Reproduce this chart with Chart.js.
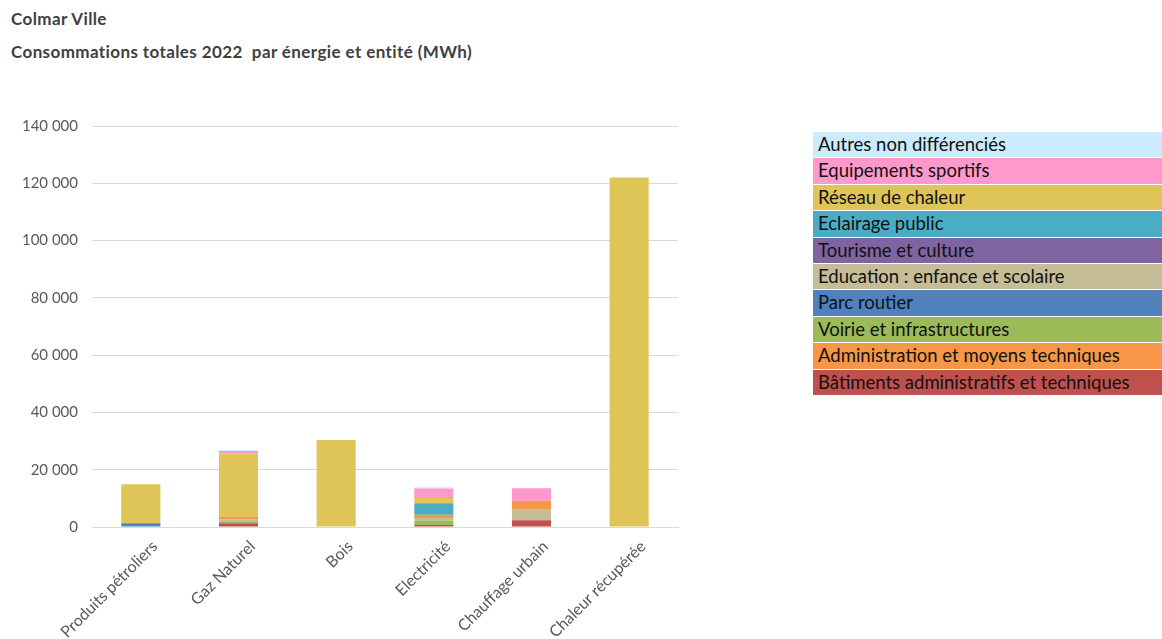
<!DOCTYPE html>
<html lang="fr">
<head>
<meta charset="utf-8">
<title>Colmar Ville - Consommations 2022</title>
<script src="https://cdn.jsdelivr.net/npm/chart.js@4.4.1/dist/chart.umd.min.js"></script>
<style>
  html, body { margin: 0; padding: 0; background: #fff; }
  body { width: 1162px; height: 639px; position: relative; overflow: hidden; font-family: Lato, "Open Sans", sans-serif; }
  .title { position: absolute; left: 11px; font-weight: bold; font-size: 17px; letter-spacing: 0.4px; color: #404040; white-space: pre; line-height: 1; }
  #chartBox { position: absolute; left: 0; top: 0; width: 700px; height: 639px; }
  #legend { position: absolute; left: 813px; top: 132px; width: 349px; }
  #legend div { height: 25.4px; line-height: 25.4px; margin-bottom: 1px; padding-left: 5px; font-size: 18.5px; color: #111; white-space: nowrap; }
</style>
</head>
<body>
<div class="title" style="top:10px">Colmar Ville</div>
<div class="title" style="top:43px">Consommations totales 2022  par énergie et entité (MWh)</div>
<div id="chartBox"><canvas id="chart"></canvas></div>
<div id="legend"></div>

<script>
// energy types on the x axis
const energies = ["Produits pétroliers", "Gaz Naturel", "Bois", "Electricité", "Chauffage urbain", "Chaleur récupérée"];

// consumption per entity, MWh (stacked bottom to top)
const batiments      = [0,    1300, 0,     700,  2400, 0];
const voirie         = [0,    450,  0,     1600, 0,    0];
const parcRoutier    = [1300, 0,    0,     0,    0,    0];
const education      = [0,    950,  0,     800,  3600, 0];
const administration = [0,    900,  0,     1200, 3200, 0];
const tourisme       = [0,    0,    0,     0,    0,    0];
const eclairage      = [0,    0,    0,     4000, 0,    0];
const reseauChaleur  = [13600, 22100, 30400, 1800, 0,  122000];
const equipements    = [0,    800,  0,     3300, 4300, 0];
const autres         = [0,    400,  0,     500,  0,    0];

const yTicks = [0, 20000, 40000, 60000, 80000, 100000, 120000, 140000];

// order used by the colour table (top row first)
const legendRows = [
  ["Autres non différenciés", "#CCEBFC"],
  ["Equipements sportifs", "#FF99CC"],
  ["Réseau de chaleur", "#DFC457"],
  ["Eclairage public", "#4BACC6"],
  ["Tourisme et culture", "#8064A2"],
  ["Education : enfance et scolaire", "#C4BD97"],
  ["Parc routier", "#4F81BD"],
  ["Voirie et infrastructures", "#9BBB59"],
  ["Administration et moyens techniques", "#F79646"],
  ["Bâtiments administratifs et techniques", "#C0504D"]
];
const colorOf = Object.fromEntries(legendRows);

const series = [
  ["Bâtiments administratifs et techniques", batiments],
  ["Voirie et infrastructures", voirie],
  ["Parc routier", parcRoutier],
  ["Education : enfance et scolaire", education],
  ["Administration et moyens techniques", administration],
  ["Tourisme et culture", tourisme],
  ["Eclairage public", eclairage],
  ["Réseau de chaleur", reseauChaleur],
  ["Equipements sportifs", equipements],
  ["Autres non différenciés", autres]
];

const datasets = series.map(([label, data]) => ({
  label: label,
  data: data,
  backgroundColor: colorOf[label],
  borderWidth: 0,
  barPercentage: 0.4,
  categoryPercentage: 1.0
}));

// colour table on the right
const legendEl = document.getElementById("legend");
legendRows.forEach(([label, color]) => {
  const row = document.createElement("div");
  row.style.background = color;
  row.textContent = label;
  legendEl.appendChild(row);
});

const fmt = v => String(v).replace(/\B(?=(\d{3})+(?!\d))/g, " ");

new Chart(document.getElementById("chart"), {
  type: "bar",
  data: { labels: energies, datasets: datasets },
  options: {
    responsive: true,
    maintainAspectRatio: false,
    animation: false,
    layout: { padding: { top: 126, right: 22, left: 0, bottom: 0 } },
    plugins: {
      legend: { display: false },
      tooltip: { enabled: false }
    },
    scales: {
      x: {
        stacked: true,
        grid: { display: false },
        border: { color: "#D9D9D9", width: 1 },
        ticks: {
          color: "#595959",
          font: { family: "Lato", size: 16 },
          maxRotation: 45,
          minRotation: 45,
          labelOffset: 14,
          padding: 2
        },
        afterFit: scale => { scale.height = 112; }
      },
      y: {
        stacked: true,
        min: 0,
        max: 140000,
        border: { display: false },
        grid: { color: "#D9D9D9", drawTicks: false },
        afterBuildTicks: scale => { scale.ticks = yTicks.map(v => ({ value: v })); },
        ticks: {
          color: "#595959",
          font: { family: "Lato", size: 15 },
          padding: 14,
          callback: v => fmt(v)
        },
        afterFit: scale => { scale.width = 92; }
      }
    }
  }
});
</script>
</body>
</html>
